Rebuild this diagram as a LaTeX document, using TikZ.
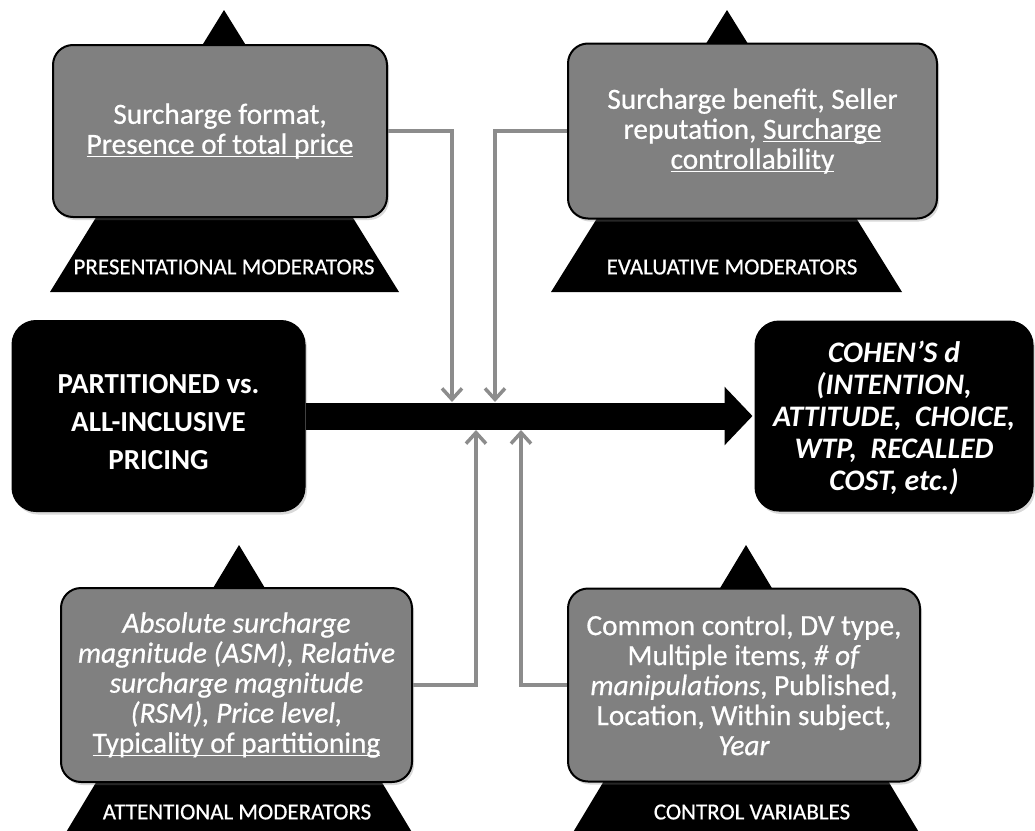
\documentclass[tikz,border=0pt]{standalone}
\usepackage{fontspec}
\setmainfont{Carlito}
\newfontfamily\thickfont[FakeBold=0.6]{Carlito}
\usetikzlibrary{arrows.meta,shadows}
\definecolor{boxgray}{RGB}{128,128,128}
\definecolor{linegray}{RGB}{140,140,140}
\newcommand{\myul}[1]{\setbox0\hbox{#1}\rlap{\rule[-3.5pt]{\wd0}{1.3pt}}\box0}
\begin{document}
\begin{tikzpicture}[x=1pt,y=-1pt,
  gbox/.style={draw=black, line width=2pt, fill=boxgray, rounded corners=20pt,
    text=white, align=center, font=\thickfont\fontsize{29.3}{30}\selectfont, inner sep=0pt,
    drop shadow={opacity=0.3, shadow xshift=2pt, shadow yshift=-3pt}},
  bbox/.style={draw=black, line width=1pt, fill=black, rounded corners=24pt,
    drop shadow={opacity=0.3, shadow xshift=2pt, shadow yshift=-3pt}},
  btext/.style={text=white, align=center, inner sep=0pt},
  tri/.style={fill=black},
  trilabel/.style={text=white, font=\thickfont\fontsize{23}{24}\selectfont, inner sep=0pt},
  conn/.style={draw=linegray, line width=3.5pt, -{Straight Barb[length=11pt,width=20pt]}},
  mainarrow/.style={draw=black, line width=27pt, -{Triangle[length=28pt,width=57pt]}, shorten >=2pt}
]
\useasboundingbox (0,0) rectangle (1035,830);
\clip (0,0) rectangle (1035,830);

% triangles
\fill[tri] (224,10) -- (399,292) -- (50,292) -- cycle;
\fill[tri] (727,10) -- (902,292) -- (551,292) -- cycle;
\fill[tri] (239,545) -- (413,834) -- (65,834) -- cycle;
\fill[tri] (746,545) -- (920,834) -- (572,834) -- cycle;

\node[trilabel] (lab1) at (224,267) {PRESENTATIONAL MODERATORS};
\node[trilabel] (lab2) at (732,267) {EVALUATIVE MODERATORS};
\node[trilabel] (lab3) at (237,812) {ATTENTIONAL MODERATORS};
\node[trilabel] (lab4) at (752,812) {CONTROL VARIABLES};

% moderator boxes
\node[gbox, minimum width=334pt, minimum height=172pt] (tl) at (220,131)
  {Surcharge format,\\ \myul{Presence of total price}};
\node[gbox, minimum width=369pt, minimum height=175pt] (tr) at (752.5,131)
  {Surcharge benefit, Seller\\ reputation, \myul{Surcharge}\\ \myul{controllability}};
\node[gbox, minimum width=351pt, minimum height=194pt] (bl) at (236.5,685)
  {\itshape Absolute surcharge\\ \itshape magnitude (ASM), Relative\\ \itshape surcharge magnitude\\ \itshape (RSM), Price level,\\ \upshape\myul{Typicality of partitioning}};
\node[gbox, minimum width=352pt, minimum height=193pt] (br) at (744,685)
  {Common control, DV type,\\ Multiple items, \textit{\# of}\\ \textit{manipulations}, Published,\\ Location, Within subject,\\ \textit{Year}};

% main boxes
\node[bbox, minimum width=293pt, minimum height=191pt] (left) at (158.5,416) {};
\node[btext, font=\fontsize{29}{38}\selectfont\bfseries] (lefttext) at (158.5,422)
  {PARTITIONED vs.\\ ALL-INCLUSIVE\\ PRICING};
\node[bbox, minimum width=278pt, minimum height=190pt] (right) at (894,416) {};
\node[btext, font=\fontsize{29.8}{32}\selectfont\bfseries\itshape] (righttext) at (894,418)
  {COHEN’S d\\ (INTENTION,\\ ATTITUDE,~ CHOICE,\\ WTP,~ RECALLED\\ COST, etc.)};

% junction points on the main arrow
\coordinate (j1) at (452,402);
\coordinate (j2) at (495,402);
\coordinate (j3) at (476,430);
\coordinate (j4) at (521,430);

\draw[conn] (tl.east) -| (j1);
\draw[conn] (tr.west) -| (j2);
\draw[conn] (bl.east) -| (j3);
\draw[conn] (br.west) -| (j4);

\draw[mainarrow] (left.east) -- (right.west);
\end{tikzpicture}
\end{document}
